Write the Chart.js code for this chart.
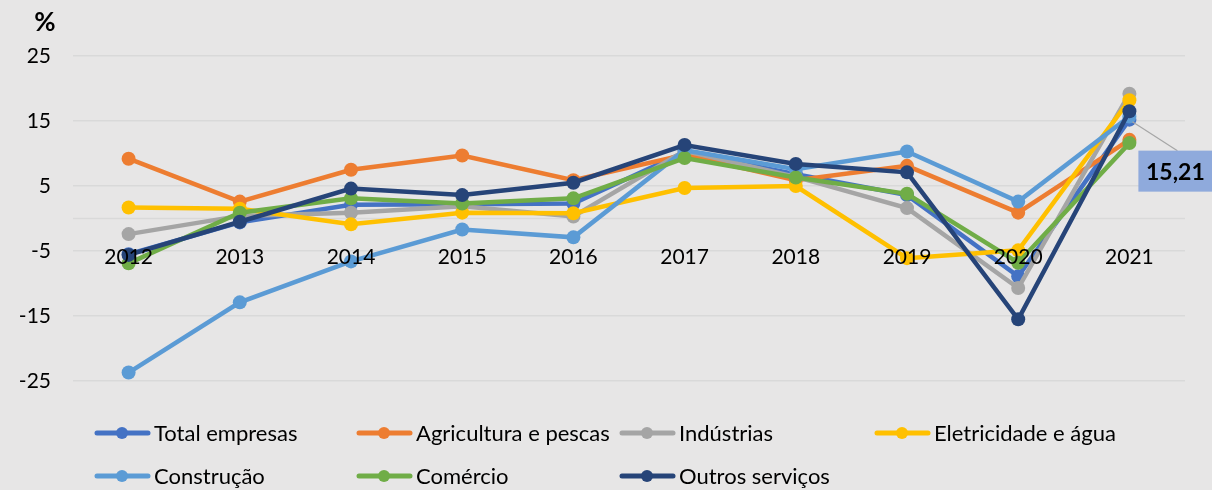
<!DOCTYPE html>
<html>
<head>
<meta charset="utf-8">
<script src="https://cdn.jsdelivr.net/npm/chart.js@4.4.1/dist/chart.umd.min.js"></script>
<style>
  html, body { margin: 0; padding: 0; background: #e7e6e6; }
  #wrap { width: 1212px; height: 490px; }
</style>
</head>
<body>
<div id="wrap"><canvas id="chart" width="1212" height="490"></canvas></div>
<script>
// ==========================================
// A. DADOS
// ==========================================
const anos = ['2012', '2013', '2014', '2015', '2016', '2017', '2018', '2019', '2020', '2021'];

const totalEmpresas = [-5.5, -0.6, 2.1, 2.2, 2.3, 10.2, 6.8, 3.6, -8.9, 15.21];
const agricultura   = [9.2, 2.6, 7.5, 9.7, 5.9, 9.8, 5.9, 8.1, 0.9, 12.1];
const industrias    = [-2.4, 0.4, 0.9, 1.9, 0.3, 10.4, 6.4, 1.6, -10.7, 19.2];
const eletricidade  = [1.7, 1.5, -0.9, 0.9, 0.8, 4.7, 5.0, -6.1, -4.9, 18.2];
const construcao    = [-23.7, -12.9, -6.6, -1.7, -2.9, 10.5, 7.6, 10.3, 2.6, 15.7];
const comercio      = [-6.9, 0.9, 3.1, 2.3, 3.1, 9.3, 6.3, 3.8, -6.8, 11.6];
const outros        = [-5.6, -0.5, 4.6, 3.6, 5.5, 11.3, 8.4, 7.1, -15.5, 16.5];

const series = ['Total empresas', 'Agricultura e pescas', 'Indústrias', 'Eletricidade e água',
                'Construção', 'Comércio', 'Outros serviços'];
const cores = ['#4472C4', '#ED7D31', '#A5A5A5', '#FFC000', '#5B9BD5', '#70AD47', '#264478'];
const valores = [totalEmpresas, agricultura, industrias, eletricidade, construcao, comercio, outros];

const yTicks = [-25, -15, -5, 5, 15, 25];
const unidade = '%';
// rotulo de dados: serie 0, ultimo ano
const rotuloSerie = 0;
const rotuloIndice = 9;

const FONTE = 'Lato, "Liberation Sans", sans-serif';

// ==========================================
// B. PLUGINS
// ==========================================
const linhaZero = {
    id: 'linhaZero',
    beforeDatasetsDraw(chart) {
        const { ctx, chartArea, scales } = chart;
        const y0 = scales.y.getPixelForValue(0);
        ctx.save();
        ctx.strokeStyle = '#d9d9d9';
        ctx.lineWidth = 1.5;
        ctx.beginPath();
        ctx.moveTo(chartArea.left, y0);
        ctx.lineTo(chartArea.right, y0);
        ctx.stroke();
        ctx.restore();
    }
};

const extras = {
    id: 'extras',
    afterDraw(chart) {
        const { ctx } = chart;
        ctx.save();

        // titulo "%"
        ctx.fillStyle = '#000';
        ctx.font = 'bold 26px ' + FONTE;
        ctx.textAlign = 'center';
        ctx.textBaseline = 'middle';
        ctx.fillText(unidade, 45, 23);

        // rotulo 15,21
        const pt = chart.getDatasetMeta(rotuloSerie).data[rotuloIndice];
        const v = valores[rotuloSerie][rotuloIndice];
        const bx = pt.x + 9, by = pt.y + 31, bw = 74, bh = 41;
        ctx.strokeStyle = '#a6a6a6';
        ctx.lineWidth = 1.2;
        ctx.beginPath();
        ctx.moveTo(pt.x + 3, pt.y + 2);
        ctx.lineTo(pt.x + 48, by);
        ctx.stroke();
        ctx.fillStyle = '#8FAADC';
        ctx.fillRect(bx, by, bw, bh);
        ctx.fillStyle = '#000';
        ctx.font = 'bold 23px ' + FONTE;
        ctx.fillText(v.toFixed(2).replace('.', ','), bx + bw / 2, by + bh / 2 + 1);

        // legenda
        const colX = [95, 357, 620, 875];
        const rowY = [433, 476];
        ctx.font = '22px ' + FONTE;
        ctx.textAlign = 'left';
        series.forEach((nome, i) => {
            const x = colX[i % 4];
            const y = rowY[Math.floor(i / 4)];
            ctx.strokeStyle = cores[i];
            ctx.lineWidth = 5;
            ctx.lineCap = 'round';
            ctx.beginPath();
            ctx.moveTo(x + 2, y);
            ctx.lineTo(x + 53, y);
            ctx.stroke();
            ctx.fillStyle = cores[i];
            ctx.beginPath();
            ctx.arc(x + 27, y, 6, 0, Math.PI * 2);
            ctx.fill();
            ctx.fillStyle = '#000';
            ctx.fillText(nome, x + 59, y + 1);
        });
        ctx.restore();
    }
};

// ==========================================
// C. GRAFICO
// ==========================================
const ctx = document.getElementById('chart').getContext('2d');
new Chart(ctx, {
    type: 'line',
    data: {
        labels: anos,
        datasets: series.map((nome, i) => ({
            label: nome,
            data: valores[i],
            borderColor: cores[i],
            backgroundColor: cores[i],
            borderWidth: 4.5,
            pointRadius: 7,
            pointBorderWidth: 0,
            pointHoverRadius: 7,
            tension: 0,
            order: series.length - i
        }))
    },
    options: {
        responsive: false,
        animation: false,
        layout: { padding: { top: 56, right: 27, bottom: 109, left: 0 } },
        plugins: { legend: { display: false }, tooltip: { enabled: false } },
        scales: {
            x: {
                type: 'category',
                position: { y: 0 },
                offset: true,
                grid: { display: false },
                border: { display: false },
                ticks: {
                    z: 1,
                    color: '#000',
                    font: { family: FONTE, size: 21 },
                    padding: 18,
                    maxRotation: 0
                }
            },
            y: {
                min: -25,
                max: 25,
                afterBuildTicks: (scale) => { scale.ticks = yTicks.map(v => ({ value: v })); },
                afterFit: (scale) => { scale.width = 73; },
                grid: { color: '#d9d9d9', lineWidth: 1.5, drawTicks: false },
                border: { display: false },
                ticks: {
                    color: '#000',
                    font: { family: FONTE, size: 21 },
                    padding: 22
                }
            }
        }
    },
    plugins: [linhaZero, extras]
});
</script>
</body>
</html>
